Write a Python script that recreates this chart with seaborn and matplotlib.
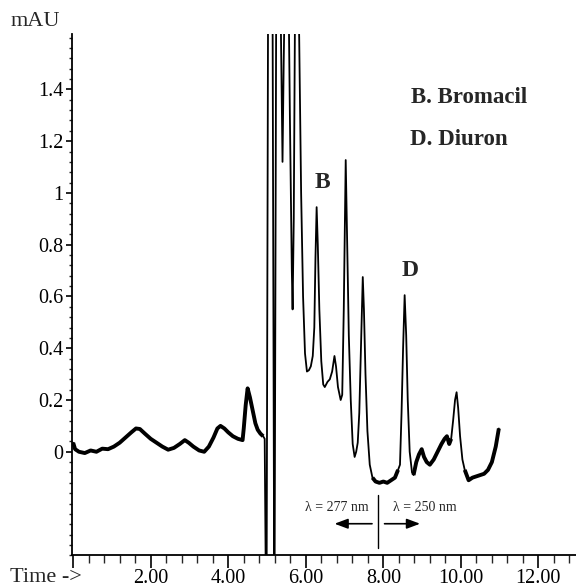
import matplotlib
matplotlib.use("Agg")
import matplotlib.pyplot as plt
import numpy as np
import seaborn as sns

# chromatogram trace (time in min, absorbance in mAU)
time = [0.00, 0.05, 0.15, 0.30, 0.45, 0.60, 0.75, 0.90, 1.05, 1.20, 1.35, 1.50,
        1.62, 1.72, 1.85, 2.00, 2.15, 2.30, 2.45, 2.60, 2.75, 2.88, 2.98, 3.10,
        3.25, 3.38, 3.50, 3.62, 3.72, 3.80, 3.90, 4.00, 4.12, 4.25, 4.37, 4.40,
        4.45, 4.50, 4.56, 4.63, 4.70, 4.76, 4.83, 4.90, 4.94, 4.985, 5.03, 5.09,
        5.14, 5.19, 5.24, 5.31, 5.37, 5.40, 5.43, 5.47, 5.54, 5.59, 5.64, 5.66,
        5.69, 5.73, 5.78, 5.83, 5.88, 5.93, 5.98, 6.03, 6.08, 6.13, 6.18, 6.22,
        6.25, 6.28, 6.31, 6.35, 6.40, 6.45, 6.49, 6.56, 6.62, 6.68, 6.74, 6.78,
        6.83, 6.90, 6.94, 6.98, 7.03, 7.07, 7.11, 7.16, 7.21, 7.26, 7.30, 7.34,
        7.38, 7.43, 7.47, 7.50, 7.54, 7.59, 7.65, 7.72, 7.80, 7.90, 8.00, 8.10,
        8.20, 8.30, 8.38, 8.43, 8.47, 8.51, 8.55, 8.59, 8.63, 8.68, 8.74, 8.78,
        8.85, 8.92, 8.99, 9.05, 9.12, 9.20, 9.30, 9.40, 9.50, 9.58, 9.64, 9.70,
        9.75, 9.80, 9.85, 9.89, 9.93, 9.98, 10.04, 10.10, 10.20, 10.30, 10.40,
        10.50, 10.60, 10.70, 10.80, 10.90, 10.98]
mau = [0.035, 0.010, 0.000, -0.005, 0.005, 0.000, 0.012, 0.010, 0.020, 0.035, 0.055, 0.075,
       0.090, 0.088, 0.070, 0.050, 0.035, 0.020, 0.008, 0.015, 0.030, 0.045, 0.035, 0.020,
       0.005, 0.000, 0.020, 0.055, 0.090, 0.100, 0.090, 0.075, 0.060, 0.050, 0.045, 0.090,
       0.180, 0.245, 0.210, 0.160, 0.110, 0.085, 0.070, 0.060, 0.050, -0.8, 1.9, 2.2,
       1.9, -0.8, 1.9, 2.2, 1.5, 1.12, 1.5, 1.9, 2.0, 1.3, 0.70, 0.55,
       0.90, 1.9, 2.0, 1.6, 1.0, 0.60, 0.38, 0.31, 0.315, 0.33, 0.37, 0.48,
       0.75, 0.945, 0.80, 0.55, 0.35, 0.26, 0.25, 0.27, 0.28, 0.31, 0.37, 0.33,
       0.25, 0.20, 0.22, 0.55, 1.127, 0.80, 0.45, 0.20, 0.03, -0.02, 0.000, 0.035,
       0.15, 0.45, 0.675, 0.55, 0.30, 0.08, -0.05, -0.10, -0.115, -0.12, -0.115, -0.12,
       -0.11, -0.10, -0.07, -0.05, 0.15, 0.40, 0.605, 0.45, 0.20, 0.000, -0.08, -0.09,
       -0.04, -0.01, 0.01, -0.02, -0.04, -0.05, -0.03, 0.000, 0.03, 0.05, 0.06, 0.03,
       0.05, 0.12, 0.20, 0.23, 0.17, 0.06, -0.03, -0.07, -0.11, -0.10, -0.095,
       -0.09, -0.085, -0.07, -0.04, 0.02, 0.09]

# time windows where the trace is a noisy band
noisy = [(0.0, 4.93), (7.70, 8.40), (8.76, 9.75), (10.08, 11.0)]

peak_labels = ["B", "D"]
peak_pos = [(6.44, 1.04), (8.68, 0.70)]
legend_lines = ["B. Bromacil", "D. Diuron"]
y_ticks = [0, 0.2, 0.4, 0.6, 0.8, 1.0, 1.2, 1.4]
y_labels = ["0", "0.2", "0.4", "0.6", "0.8", "1", "1.2", "1.4"]
x_ticks = [2, 4, 6, 8, 10, 12]
x_labels = ["2.00", "4.00", "6.00", "8.00", "10.00", "12.00"]

sns.set_style("ticks")
plt.rcParams["font.family"] = ["Liberation Serif", "DejaVu Serif"]

fig = plt.figure(figsize=(5.76, 5.88), dpi=100)
ax = fig.add_axes([0.125, 0.0556, 0.875, 0.8866])

t = np.array(time)
y = np.array(mau)
sns.lineplot(x=t, y=y, ax=ax, color="black", lw=1.3, sort=False, estimator=None)
for lo, hi in noisy:
    m = (t >= lo) & (t <= hi)
    ax.plot(t[m], y[m], color="black", lw=2.8, solid_joinstyle="round",
            solid_capstyle="butt")

ax.set_xlim(-0.03, 12.97)
ax.set_ylim(-0.4, 1.614)
ax.set_xticks([0] + x_ticks)
ax.set_xticklabels([""] + x_labels)
ax.set_xticks(np.arange(0, 13.0, 0.4), minor=True)
ax.set_yticks(y_ticks)
ax.set_yticklabels(y_labels)
ax.set_yticks(np.arange(-0.4, 1.62, 0.04), minor=True)
ax.tick_params(axis="both", which="major", direction="out", length=4, width=1.2,
               labelsize=14.5, pad=2, colors="black")
ax.tick_params(axis="both", which="minor", direction="out", length=2.5, width=1)
ax.tick_params(axis="x", which="major", length=9, pad=0.5)
ax.tick_params(axis="x", which="minor", length=5.5)
sns.despine(ax=ax)
for s in ["left", "bottom"]:
    ax.spines[s].set_linewidth(1.3)
    ax.spines[s].set_color("black")
ax.set_xlabel("")
ax.set_ylabel("")

for lab, (px, py) in zip(peak_labels, peak_pos):
    ax.text(px, py, lab, fontsize=17, fontweight="bold", ha="center", va="center")
ax.text(8.71, 1.37, legend_lines[0], fontsize=16.5, fontweight="bold", va="center")
ax.text(8.70, 1.205, legend_lines[1], fontsize=16.5, fontweight="bold", va="center")

# wavelength switch marker
ax.plot([7.86, 7.86], [-0.166, -0.37], color="black", lw=1)
ax.text(6.80, -0.216, "λ = 277 nm", fontsize=10, ha="center", va="center")
ax.text(9.07, -0.216, "λ = 250 nm", fontsize=10, ha="center", va="center")
arrow = dict(arrowstyle="-|>,head_length=0.8,head_width=0.3", color="black", lw=1.2)
ax.annotate("", xy=(6.67, -0.278), xytext=(7.78, -0.278), arrowprops=arrow)
ax.annotate("", xy=(9.02, -0.278), xytext=(7.96, -0.278), arrowprops=arrow)

fig.text(11 / 576, 1 - 21 / 588, "mAU", fontsize=16, va="center", ha="left")
fig.text(10 / 576, 1 - 577 / 588, "Time ->", fontsize=16, va="center", ha="left")

fig.savefig("out.png", dpi=100)
